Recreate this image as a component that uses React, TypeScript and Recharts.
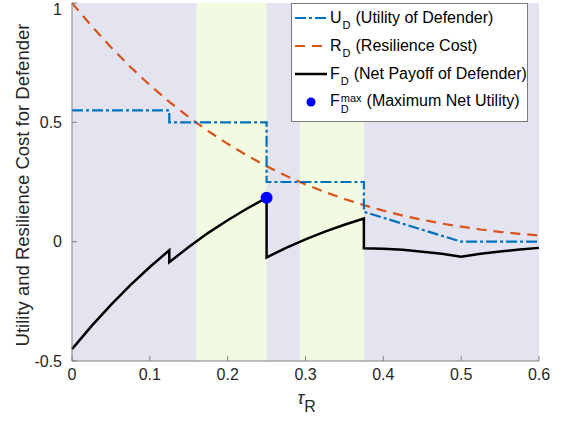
import {
  ComposedChart,
  Line,
  Scatter,
  XAxis,
  YAxis,
  ReferenceArea,
  Legend,
} from "recharts"

// τ_R samples (repeated values mark the jumps)
const tau = [0, 0.025, 0.05, 0.075, 0.1, 0.125, 0.125, 0.15, 0.175, 0.2, 0.225, 0.25, 0.25, 0.275, 0.3, 0.325, 0.35, 0.375, 0.375, 0.4, 0.425, 0.45, 0.475, 0.5, 0.525, 0.55, 0.575, 0.6]
const utility = [0.55, 0.55, 0.55, 0.55, 0.55, 0.55, 0.5, 0.5, 0.5, 0.5, 0.5, 0.5, 0.25, 0.25, 0.25, 0.25, 0.25, 0.25, 0.125, 0.1, 0.075, 0.05, 0.025, 0, 0, 0, 0, 0]
const resilience = [1, 0.904, 0.815, 0.732, 0.656, 0.586, 0.586, 0.522, 0.463, 0.41, 0.361, 0.316, 0.316, 0.276, 0.24, 0.208, 0.179, 0.153, 0.153, 0.13, 0.109, 0.092, 0.076, 0.063, 0.051, 0.041, 0.033, 0.026]
const netPayoff = [-0.45, -0.354, -0.265, -0.182, -0.106, -0.036, -0.086, -0.022, 0.037, 0.09, 0.139, 0.184, -0.066, -0.026, 0.01, 0.042, 0.071, 0.097, -0.028, -0.03, -0.034, -0.042, -0.051, -0.063, -0.051, -0.041, -0.033, -0.026]

const maxPoint = [{ tau: 0.25, F: 0.184 }]

// shaded tau ranges
const greenBands = [
  [0.16, 0.25],
  [0.293, 0.375],
]

const xTicks = [0, 0.1, 0.2, 0.3, 0.4, 0.5, 0.6]
const yTicks = [-0.5, 0, 0.5, 1]

const data = tau.map((t, i) => ({
  tau: t,
  U: utility[i],
  R: resilience[i],
  F: netPayoff[i],
}))

const FONT = "'Liberation Sans', Arial, sans-serif"
const BLUE = "#0072BD"
const ORANGE = "#D95319"
const AXIS = "#808080"
const TEXT = "#262626"

const tickStyle = { fill: TEXT, fontSize: 16, fontFamily: FONT }

function LegendBox() {
  const row = (sample: React.ReactNode, main: string, sub: string, sup: string | null, rest: string) => (
    <div style={{ display: "flex", alignItems: "center", height: 28 }}>
      <svg width={34} height={12} style={{ marginRight: 2 }}>{sample}</svg>
      <span style={{ fontSize: 16, color: "#000", whiteSpace: "nowrap" }}>
        {main}
        <span style={{ display: "inline-flex", flexDirection: "column", verticalAlign: "middle", fontSize: 11, lineHeight: "11px", marginLeft: 1, marginRight: 5, position: "relative", top: sup ? 2 : 7 }}>
          {sup ? <span>{sup}</span> : null}
          <span>{sub}</span>
        </span>
        {rest}
      </span>
    </div>
  )
  return (
    <div
      style={{
        width: 237,
        height: 119,
        boxSizing: "border-box",
        background: "#fff",
        border: "1px solid #7a7a7a",
        fontFamily: FONT,
        padding: "0 0 0 2px",
      }}
    >
      {row(<line x1={1} y1={6} x2={33} y2={6} stroke={BLUE} strokeWidth={2.2} strokeDasharray="11 3 3 3" />, "U", "D", null, "(Utility of Defender)")}
      {row(<line x1={1} y1={6} x2={33} y2={6} stroke={ORANGE} strokeWidth={2.2} strokeDasharray="10 7" />, "R", "D", null, "(Resilience Cost)")}
      {row(<line x1={1} y1={6} x2={33} y2={6} stroke="#000" strokeWidth={2.5} />, "F", "D", null, "(Net Payoff of Defender)")}
      {row(<circle cx={17} cy={6} r={4.5} fill="#0000FF" />, "F", "D", "max", "(Maximum Net Utility)")}
    </div>
  )
}

export default function App() {
  return (
    <div style={{ position: "absolute", left: 0, top: 0, width: 564, height: 427, background: "#fff" }}>
      <ComposedChart
        width={564}
        height={427}
        data={data}
        margin={{ top: 3, right: 25, left: 0, bottom: 0 }}
        style={{ fontFamily: FONT }}
      >
        <XAxis
          dataKey="tau"
          type="number"
          domain={[0, 0.6]}
          ticks={xTicks}
          tickFormatter={(v: number) => `${v}`}
          height={66}
          stroke={AXIS}
          tick={tickStyle}
          tickSize={-5}
          tickMargin={13}
          label={{
            content: (p: any) => {
              const vb = p.viewBox
              const cx = vb.x + vb.width / 2
              return (
                <text x={cx - 8} y={vb.y + 43} fontFamily={FONT} fontSize={18} fill={TEXT}>
                  <tspan fontStyle="italic">τ</tspan>
                  <tspan fontSize={16} dy={8}>R</tspan>
                </text>
              )
            },
          }}
        />
        <XAxis
          xAxisId="top"
          orientation="top"
          type="number"
          domain={[0, 0.6]}
          ticks={xTicks}
          tickFormatter={() => ""}
          height={0}
          stroke={AXIS}
          tickSize={-5}
        />
        <YAxis
          type="number"
          domain={[-0.5, 1]}
          ticks={yTicks}
          tickFormatter={(v: number) => `${v}`}
          width={72}
          stroke={AXIS}
          tick={tickStyle}
          tickSize={-5}
          tickMargin={15}
          label={{
            content: (p: any) => {
              const vb = p.viewBox
              const cy = vb.y + vb.height / 2 + 3
              return (
                <text
                  x={22}
                  y={cy}
                  transform={`rotate(-90 22 ${cy})`}
                  textAnchor="middle"
                  dominantBaseline="central"
                  fontFamily={FONT}
                  fontSize={18.5}
                  fill={TEXT}
                >
                  Utility and Resilience Cost for Defender
                </text>
              )
            },
          }}
        />
        <YAxis
          yAxisId="right"
          orientation="right"
          type="number"
          domain={[-0.5, 1]}
          ticks={yTicks}
          tickFormatter={() => ""}
          width={0}
          stroke={AXIS}
          tickSize={-5}
        />
        <ReferenceArea x1={0} x2={0.6} y1={-0.5} y2={1} fill="#E4E4F0" fillOpacity={1} stroke="none" />
        {greenBands.map(([a, b]) => (
          <ReferenceArea key={a} x1={a} x2={b} y1={-0.5} y2={1} fill="#F2FBE2" fillOpacity={1} stroke="none" />
        ))}
        <Line
          type="linear"
          dataKey="R"
          stroke={ORANGE}
          strokeWidth={2.2}
          strokeDasharray="10 7"
          dot={false}
          isAnimationActive={false}
        />
        <Line
          type="linear"
          dataKey="U"
          stroke={BLUE}
          strokeWidth={2.2}
          strokeDasharray="11 3 3 3"
          dot={false}
          isAnimationActive={false}
        />
        <Line
          type="linear"
          dataKey="F"
          stroke="#000"
          strokeWidth={2.5}
          dot={false}
          isAnimationActive={false}
        />
        <Scatter
          data={maxPoint}
          dataKey="F"
          fill="#0000FF"
          isAnimationActive={false}
          shape={(p: any) => <circle cx={p.cx} cy={p.cy} r={6} fill="#0000FF" />}
        />
        <Legend
          layout="horizontal"
          verticalAlign="middle"
          align="center"
          wrapperStyle={{ top: 3, left: 291, width: 237 }}
          content={() => <LegendBox />}
        />
      </ComposedChart>
    </div>
  )
}
